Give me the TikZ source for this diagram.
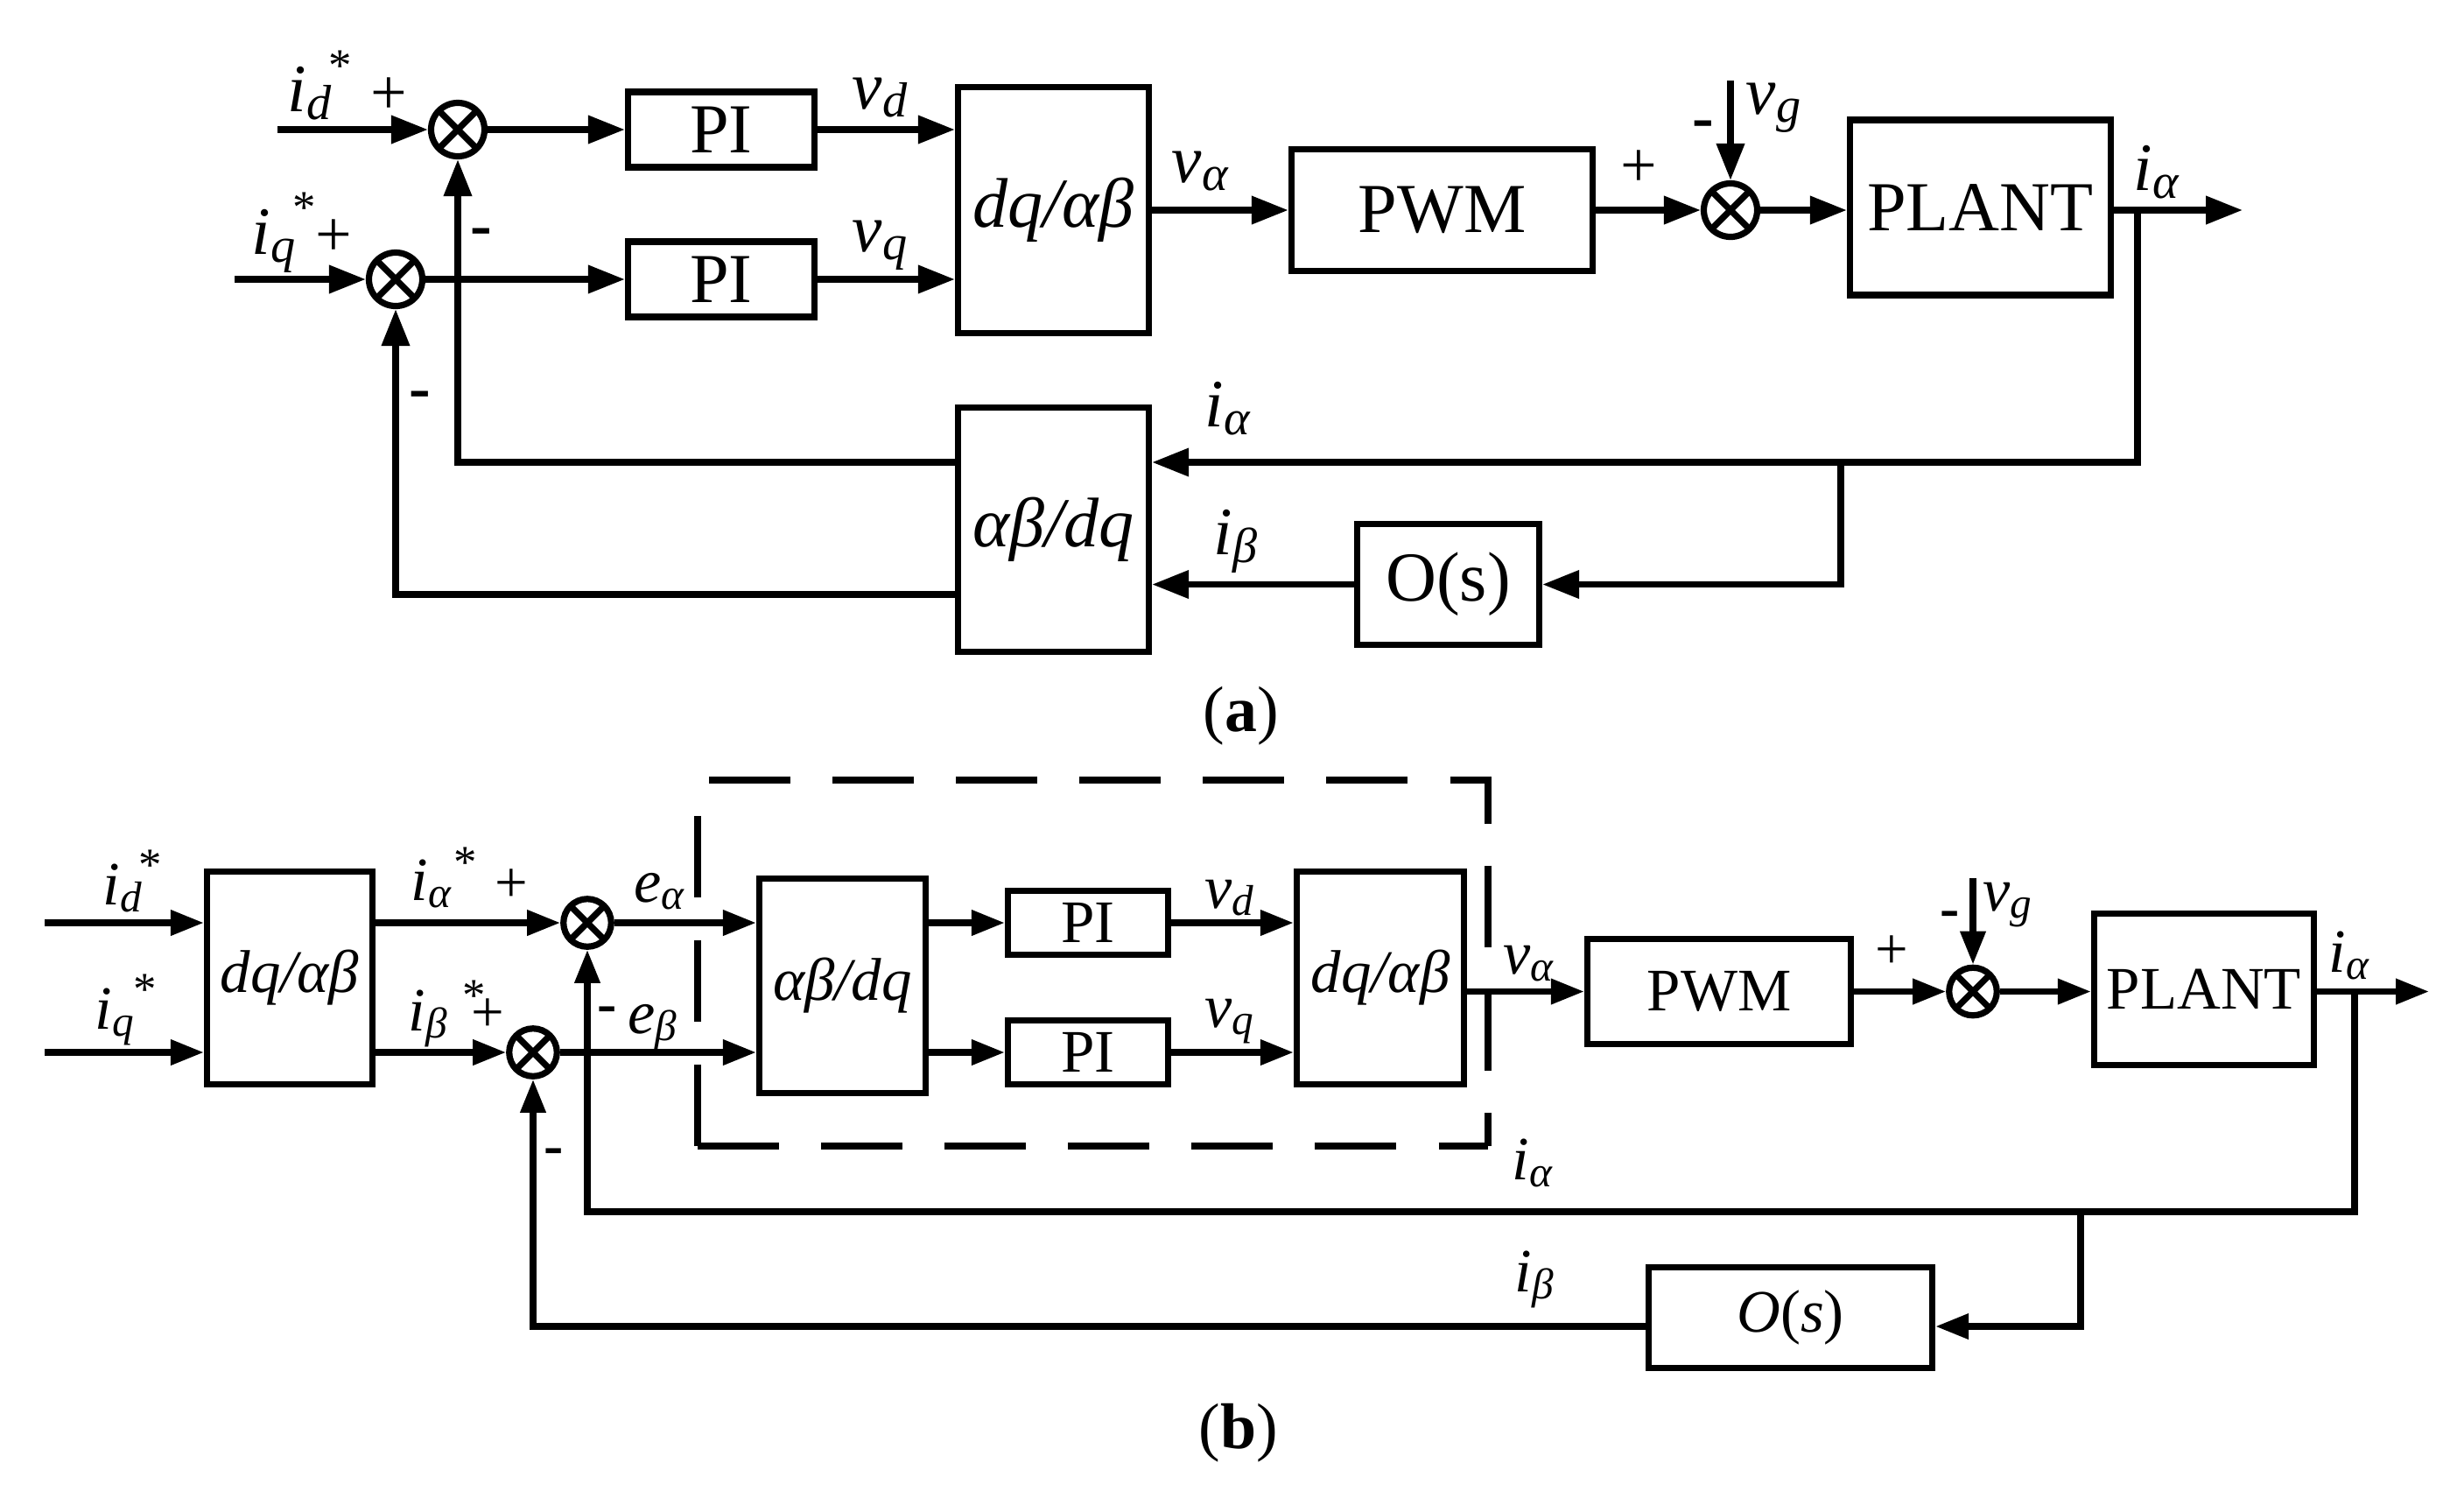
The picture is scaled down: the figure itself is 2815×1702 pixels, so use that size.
\documentclass[tikz,border=0pt]{standalone}
\usepackage{fontspec}
\setmainfont{Liberation Serif}
\usetikzlibrary{arrows.meta}
\newcommand\labA[2]{{\fontsize{22}{24}\selectfont\textit{#1}}\raisebox{-2.8pt}{\fontsize{16}{18}\selectfont\textit{#2}}}
\newcommand\labB[2]{{\fontsize{20}{22}\selectfont\textit{#1}}\raisebox{-2.5pt}{\fontsize{14}{16}\selectfont\textit{#2}}}
\newcommand\fBoxA{\fontsize{22.8}{26}\selectfont}
\newcommand\fBoxB{\fontsize{19.6}{23}\selectfont}
\newcommand\fCap{\fontsize{21}{24}\selectfont}
\tikzset{
  ln/.style={line width=0.072cm},
  arrA/.style={ln, -{Triangle[length=0.42cm,width=0.31cm]}},
  arrB/.style={ln, -{Triangle[length=0.38cm,width=0.28cm]}},
  blkA/.style={draw, ln, inner sep=0, align=center, font=\fBoxA},
  blkB/.style={draw, ln, inner sep=0, align=center, font=\fBoxB},
  sumA/.style={draw, ln, circle, inner sep=0, minimum size=0.61cm,
    path picture={\draw[ln] (path picture bounding box.north west) -- (path picture bounding box.south east)
                  (path picture bounding box.north east) -- (path picture bounding box.south west);}},
  sumB/.style={sumA, minimum size=0.545cm},
  lab/.style={inner sep=0, anchor=base west},
  starA/.style={inner sep=0, font=\fontsize{15}{16}\selectfont},
  sgnA/.style={inner sep=0, font=\fontsize{21}{24}\selectfont},
  sgnB/.style={inner sep=0, font=\fontsize{19}{22}\selectfont},
  dashbox/.style={ln, dash pattern=on 0.93cm off 0.48cm},
}
\begin{document}
\begin{tikzpicture}[x=0.01cm,y=-0.01cm]
\useasboundingbox (0,0) rectangle (2815,1702);

% ================= (a) =================
\node[sumA] (s1) at (523,148) {};
\node[sumA] (s2) at (452,319) {};
\node[blkA, minimum width=2.13cm, minimum height=0.86cm] (PI1) at (824,148) {PI};
\node[blkA, minimum width=2.13cm, minimum height=0.86cm] (PI2) at (824,319) {PI};
\node[blkA, minimum width=2.18cm, minimum height=2.81cm] (DQ1) at (1203.5,240) {\textit{dq/αβ}};
\node[blkA, minimum width=3.44cm, minimum height=1.39cm] (PWM1) at (1647.5,240) {PWM};
\node[sumA] (s3) at (1977,240) {};
\node[blkA, minimum width=2.98cm, minimum height=2.0cm] (PL1) at (2262.5,237) {PLANT};
\node[blkA, minimum width=2.18cm, minimum height=2.79cm] (AB1) at (1203.5,605) {\textit{αβ/dq}};
\node[blkA, minimum width=2.08cm, minimum height=1.38cm] (OS1) at (1654.5,667.5) {O(s)};

\coordinate (inD) at (317,148);
\coordinate (inQ) at (268,319);
\coordinate (vgA) at (1977,92);
\coordinate (outA) at (2562,240);
\coordinate (brA) at (2442,240);
\coordinate (brA2) at (2442,528);
\coordinate (brB) at (2103,528);
\coordinate (fbQ) at (453,679);

\draw[arrA] (inD) -- (s1.west);
\draw[arrA] (inQ) -- (s2.west);
\draw[arrA] (s1.east) -- (PI1.west);
\draw[arrA] (s2.east) -- (PI2.west);
\draw[arrA] (PI1.east) -- (PI1.east -| DQ1.west);
\draw[arrA] (PI2.east) -- (PI2.east -| DQ1.west);
\draw[arrA] (DQ1.east) -- (PWM1.west);
\draw[arrA] (PWM1.east) -- (s3.west);
\draw[arrA] (vgA) -- (s3.north);
\draw[arrA] (s3.east) -- (s3.east -| PL1.west);
\draw[arrA] (s3.east -| PL1.east) -- (outA);
\draw[arrA] (brA) -- (brA2) -- (brA2 -| AB1.east);
\draw[arrA] (brB) |- (OS1.east);
\draw[arrA] (OS1.west) -- (OS1.west -| AB1.east);
\draw[arrA] (brA2 -| AB1.west) -| (s1.south);
\draw[arrA] (fbQ -| AB1.west) -| (s2.south);

\node[lab] (lid) at (328,127) {\labA{i}{d}};
\node[lab] (liq) at (287,290) {\labA{i}{q}};
\node[starA] (st1) at (389,75) {*};
\node[starA] (st2) at (348,237) {*};
\node[sgnA] (p1) at (444,110) {+};
\node[sgnA] (p2) at (381,272) {+};
\node[sgnA] (m1) at (550,271) {\textbf{-}};
\node[sgnA] (m2) at (480,457) {\textbf{-}};
\node[lab] (lvd) at (973,124) {\labA{v}{d}};
\node[lab] (lvq) at (973,287) {\labA{v}{q}};
\node[lab] (lva) at (1338,208) {\labA{v}{α}};
\node[sgnA] (p3) at (1872,193) {+};
\node[sgnA] (m3) at (1946,148) {\textbf{-}};
\node[lab] (lvg) at (1994,130) {\labA{v}{g}};
\node[lab] (lia) at (2437,217) {\labA{i}{α}};
\node[lab] (lia2) at (1376,487) {\labA{i}{α}};
\node[lab] (lib) at (1386,633) {\labA{i}{β}};
\node (capA) at (1418,818) {\fCap(\textbf{a})};

% ================= (b) =================
\node[blkB, minimum width=1.89cm, minimum height=2.43cm] (DQb) at (331,1117) {\textit{dq/αβ}};
\node[sumB] (sb1) at (671,1054) {};
\node[sumB] (sb2) at (609,1202) {};
\node[blkB, minimum width=1.90cm, minimum height=2.45cm] (ABb) at (962.5,1126) {\textit{αβ/dq}};
\node[blkB, minimum width=1.83cm, minimum height=0.73cm] (PIb1) at (1243,1054) {PI};
\node[blkB, minimum width=1.83cm, minimum height=0.73cm] (PIb2) at (1243,1202) {PI};
\node[blkB, minimum width=1.91cm, minimum height=2.43cm] (DQb2) at (1577,1117) {\textit{dq/αβ}};
\node[blkB, minimum width=3.01cm, minimum height=1.20cm] (PWMb) at (1964,1132.5) {PWM};
\node[sumB] (sb3) at (2254,1132.5) {};
\node[blkB, minimum width=2.51cm, minimum height=1.73cm] (PLb) at (2518,1130) {PLANT};
\node[blkB, minimum width=3.24cm, minimum height=1.15cm] (OSb) at (2045.5,1505) {\textit{O}(\textit{s})};

\coordinate (inDb) at (51,1054);
\coordinate (inQb) at (51,1202);
\coordinate (vgB) at (2254,1003);
\coordinate (outB) at (2775,1132.5);
\coordinate (brC) at (2690,1132.5);
\coordinate (brC2) at (2690,1384);
\coordinate (brD) at (2377,1384);
\coordinate (fbB) at (609,1515);

\draw[arrB] (inDb) -- (inDb -| DQb.west);
\draw[arrB] (inQb) -- (inQb -| DQb.west);
\draw[arrB] (sb1 -| DQb.east) -- (sb1.west);
\draw[arrB] (sb2 -| DQb.east) -- (sb2.west);
\draw[arrB] (sb1.east) -- (sb1 -| ABb.west);
\draw[arrB] (sb2.east) -- (sb2 -| ABb.west);
\draw[arrB] (PIb1 -| ABb.east) -- (PIb1.west);
\draw[arrB] (PIb2 -| ABb.east) -- (PIb2.west);
\draw[arrB] (PIb1.east) -- (PIb1 -| DQb2.west);
\draw[arrB] (PIb2.east) -- (PIb2 -| DQb2.west);
\draw[arrB] (PWMb -| DQb2.east) -- (PWMb.west);
\draw[arrB] (PWMb.east) -- (sb3.west);
\draw[arrB] (vgB) -- (sb3.north);
\draw[arrB] (sb3.east) -- (sb3 -| PLb.west);
\draw[arrB] (sb3 -| PLb.east) -- (outB);
\draw[arrB] (brC) -- (brC2) -| (sb1.south);
\draw[arrB] (brD) |- (fbB -| OSb.east);
\draw[arrB] (fbB -| OSb.west) -| (sb2.south);

% dashed frame
\coordinate (dTL) at (797,891);
\coordinate (dTR) at (1700,891);
\coordinate (dBR) at (1700,1309);
\coordinate (dBL) at (797,1309);
\draw[dashbox, dash phase=1.28cm] (dTL) -- (dTR) -- (dBR);
\draw[ln, dash pattern=on 0.93cm off 0.49cm] (dBL) -- (dTL);
\draw[dashbox] (dBL) -- (dBR);

\node[lab] (lidb) at (117,1033) {\labB{i}{d}};
\node[lab] (liqb) at (108,1175) {\labB{i}{q}};
\node[starA] (st3) at (172,988) {*};
\node[starA] (st4) at (166,1130) {*};
\node[lab] (liab) at (469,1028) {\labB{i}{α}};
\node[starA] (st5) at (532,985) {*};
\node[lab] (libb) at (466,1177) {\labB{i}{β}};
\node[starA] (st6) at (542,1137) {*};
\node[sgnB] (p4) at (584,1012) {+};
\node[sgnB] (p5) at (557,1160) {+};
\node[lab] (lea) at (724,1030) {\labB{e}{α}};
\node[sgnB] (m4) at (694,1159) {\textbf{-}};
\node[lab] (leb) at (717,1180) {\labB{e}{β}};
\node[sgnB] (m5) at (633,1321) {\textbf{-}};
\node[lab] (lvdb) at (1376,1037) {\labB{v}{d}};
\node[lab] (lvqb) at (1376,1173) {\labB{v}{q}};
\node[lab] (lvab) at (1717,1112) {\labB{v}{α}};
\node[sgnB] (p6) at (2161,1088) {+};
\node[sgnB] (m6) at (2228,1050) {\textbf{-}};
\node[lab] (lvgb) at (2265,1040) {\labB{v}{g}};
\node[lab] (liab2) at (2660,1110) {\labB{i}{α}};
\node[lab] (liab3) at (1727,1347) {\labB{i}{α}};
\node[lab] (libb2) at (1730,1475) {\labB{i}{β}};
\node (capB) at (1415,1637) {\fCap(\textbf{b})};
\end{tikzpicture}
\end{document}
